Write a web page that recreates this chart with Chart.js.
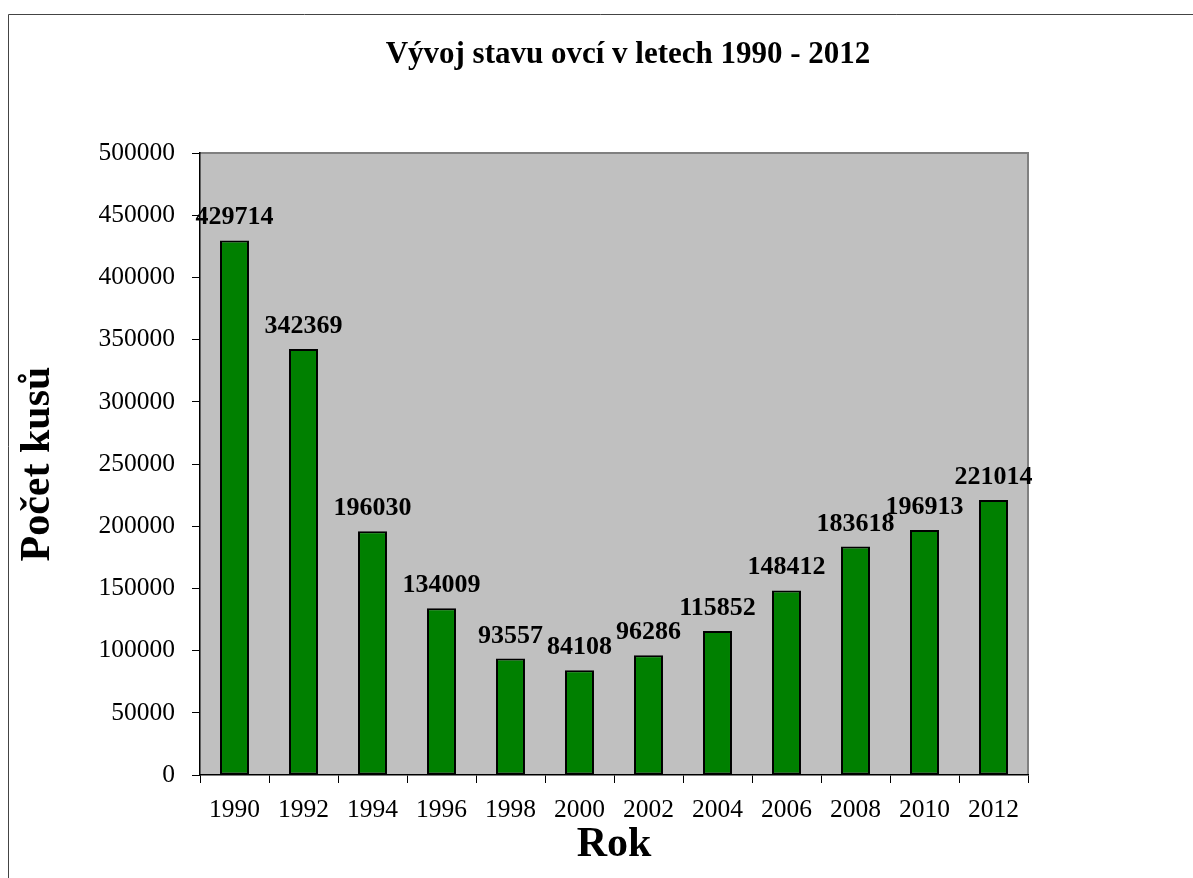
<!DOCTYPE html>
<html>
<head>
<meta charset="utf-8">
<title>Vývoj stavu ovcí</title>
<script src="https://cdn.jsdelivr.net/npm/chart.js@4/dist/chart.umd.min.js"></script>
<style>
  html, body { margin: 0; padding: 0; background: #fff; }
  canvas { display: block; }
</style>
</head>
<body>
<canvas id="ovce" width="1193" height="878"></canvas>
<script>
const years = ['1990', '1992', '1994', '1996', '1998', '2000', '2002', '2004', '2006', '2008', '2010', '2012'];
const sheepCounts = [429714, 342369, 196030, 134009, 93557, 84108, 96286, 115852, 148412, 183618, 196913, 221014];
const yMin = 0;
const yMax = 500000;
const yStep = 50000;
const chartTitle = 'Vývoj stavu ovcí v letech 1990 - 2012';

const serif = '"Liberation Serif", "Times New Roman", Times, serif';

// outer frame, gray plot background and its top/right edge
const framePlugin = {
  id: 'frame',
  beforeDraw(chart) {
    const { ctx, chartArea: a, width, height } = chart;
    ctx.save();
    ctx.strokeStyle = '#444';
    ctx.lineWidth = 1;
    ctx.beginPath();
    ctx.moveTo(8.5, height);
    ctx.lineTo(8.5, 14.5);
    ctx.lineTo(width, 14.5);
    ctx.stroke();

    ctx.fillStyle = '#c0c0c0';
    ctx.fillRect(a.left, a.top, a.right - a.left, a.bottom - a.top);
    ctx.strokeStyle = '#808080';
    ctx.lineWidth = 2;
    ctx.beginPath();
    ctx.moveTo(a.left, a.top);
    ctx.lineTo(a.right, a.top);
    ctx.lineTo(a.right, a.bottom);
    ctx.stroke();

    // heading, centred on the whole sheet rather than the plot
    ctx.font = 'bold 31px ' + serif;
    ctx.fillStyle = '#000';
    ctx.textAlign = 'center';
    ctx.textBaseline = 'alphabetic';
    ctx.fillText(chartTitle, 628, 63);
    ctx.restore();
  }
};

// value printed above each bar
const valueLabels = {
  id: 'valueLabels',
  afterDatasetsDraw(chart) {
    const { ctx } = chart;
    const meta = chart.getDatasetMeta(0);
    ctx.save();
    ctx.font = 'bold 26px ' + serif;
    ctx.fillStyle = '#000';
    ctx.textAlign = 'center';
    ctx.textBaseline = 'alphabetic';
    meta.data.forEach((bar, i) => {
      ctx.fillText(String(sheepCounts[i]), bar.x, bar.y - 16);
    });
    ctx.restore();
  }
};

const ctx = document.getElementById('ovce').getContext('2d');
new Chart(ctx, {
  type: 'bar',
  data: {
    labels: years,
    datasets: [{
      label: 'Počet kusů',
      data: sheepCounts,
      backgroundColor: '#008000',
      borderColor: '#000',
      borderWidth: 2,
      borderSkipped: false,
      barPercentage: 0.42,
      categoryPercentage: 1
    }]
  },
  options: {
    responsive: false,
    animation: false,
    layout: { padding: { left: 0, right: 165, top: 153, bottom: 0 } },
    scales: {
      x: {
        grid: {
          offset: true,
          drawOnChartArea: false,
          drawTicks: true,
          tickLength: 8,
          color: '#000'
        },
        border: { display: true, color: '#000', width: 1.5 },
        ticks: {
          color: '#000',
          padding: 12,
          maxRotation: 0,
          autoSkip: false,
          font: { family: serif, size: 25.5 }
        },
        title: {
          display: true,
          text: 'Rok',
          color: '#000',
          font: { family: serif, size: 42, weight: 'bold' },
          padding: { top: 0, bottom: 8 }
        },
        afterFit(scale) { scale.height = 103; }
      },
      y: {
        min: yMin,
        max: yMax,
        grid: {
          drawOnChartArea: false,
          drawTicks: true,
          tickLength: 8,
          color: '#000'
        },
        border: { display: true, color: '#000', width: 1.5 },
        ticks: {
          stepSize: yStep,
          color: '#000',
          padding: 17,
          font: { family: serif, size: 25.5 },
          callback: v => String(v)
        },
        title: {
          display: true,
          text: 'Počet kusů',
          color: '#000',
          font: { family: serif, size: 42, weight: 'bold' },
          padding: { top: 13, bottom: 0 }
        },
        afterFit(scale) { scale.width = 200; }
      }
    },
    plugins: {
      legend: { display: false },
      tooltip: { enabled: false },
      title: { display: false }
    }
  },
  plugins: [framePlugin, valueLabels]
});
</script>
</body>
</html>
